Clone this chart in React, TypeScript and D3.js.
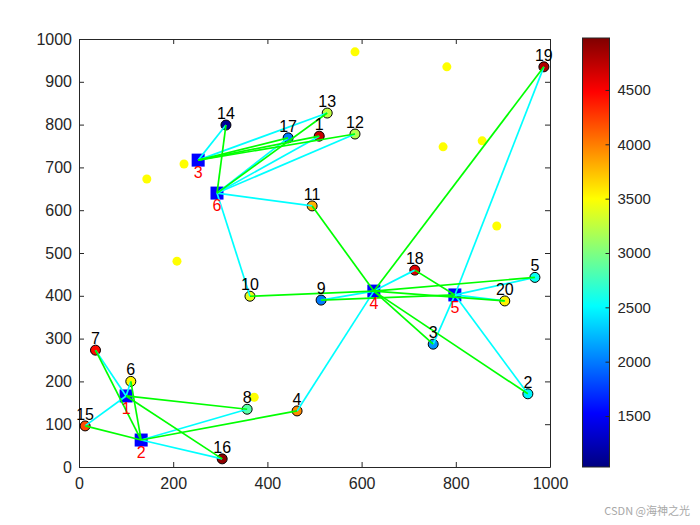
import React, { useEffect, useRef } from 'react';
import * as d3 from 'd3';

// customers, numbered 1..20 in array order
const customerX = [510, 953, 752, 463, 968, 110, 35, 357, 514, 363, 495, 586, 527, 312, 13, 304, 444, 713, 987, 904];
const customerY = [773, 171, 287, 131, 443, 200, 273, 135, 390, 399, 610, 778, 827, 799, 96, 19, 769, 460, 935, 388];
const customerDemand = [4700, 2480, 2100, 3950, 2550, 3520, 4450, 2850, 2000, 3400, 3800, 3200, 3250, 1100, 4200, 4920, 2000, 4600, 4800, 3550];

// chosen sites, numbered 1..6
const depotX = [100, 132, 253, 626, 798, 293];
const depotY = [166, 63, 717, 411, 402, 640];

// candidate sites that were not chosen
const unusedX = [586, 781, 856, 773, 887, 144, 223, 208, 372];
const unusedY = [970, 935, 762, 748, 563, 673, 708, 481, 163];

// [depot, customer] pairs
const cyanLinks = [
  [1, 6], [1, 7], [1, 15], [2, 8], [2, 16],
  [3, 14], [3, 13],
  [6, 11], [6, 10], [6, 12], [6, 1], [6, 17],
  [4, 4], [4, 18], [4, 9],
  [5, 2], [5, 3], [5, 5], [5, 20], [5, 19],
];
const greenLinks = [
  [2, 7], [2, 6], [2, 15], [2, 4], [1, 8], [1, 16],
  [3, 1], [3, 12], [3, 17], [6, 14], [6, 13],
  [4, 11], [4, 10], [4, 19], [4, 5], [4, 2], [4, 3], [4, 20],
  [5, 18], [5, 9],
];

const xTicks = [0, 200, 400, 600, 800, 1000];
const yTicks = [0, 100, 200, 300, 400, 500, 600, 700, 800, 900, 1000];
const colorTicks = [1500, 2000, 2500, 3000, 3500, 4000, 4500];
const colorMin = 1031;
const colorMax = 4978;
const jetStops = ['#000080', '#0000ff', '#00ffff', '#ffff00', '#ff0000', '#800000'];
const jetPositions = [0, 0.125, 0.375, 0.625, 0.875, 1];

const FONT = '"Liberation Sans", Arial, sans-serif';

export default function App() {
  const svgRef = useRef<SVGSVGElement>(null);

  useEffect(() => {
    if (!svgRef.current) return;
    const svg = d3.select(svgRef.current);
    svg.selectAll('*').remove();

    const x = d3.scaleLinear().domain([0, 1000]).range([79, 550]);
    const y = d3.scaleLinear().domain([0, 1000]).range([467, 39]);
    const cy = d3.scaleLinear().domain([colorMin, colorMax]).range([467, 38]);
    const jet = d3.scaleLinear<string>()
      .domain(jetPositions.map(p => colorMin + p * (colorMax - colorMin)))
      .range(jetStops);
    const fmt = d3.format('d');

    // frame and ticks on all four sides, ticks point inwards
    const drawAxis = (axis: d3.Axis<d3.NumberValue>, tx: number, ty: number, labels: boolean) => {
      const g = svg.append('g').attr('transform', `translate(${tx},${ty})`).call(axis);
      g.selectAll('path, line').attr('stroke', '#262626').attr('stroke-width', 1);
      g.selectAll('text')
        .attr('fill', '#262626')
        .style('font-family', FONT)
        .style('font-size', '16px');
      if (!labels) g.selectAll('text').remove();
    };
    drawAxis(d3.axisBottom(x).tickValues(xTicks).tickFormat(fmt).tickSizeOuter(0).tickSizeInner(-5).tickPadding(11), 0, 467, true);
    drawAxis(d3.axisLeft(y).tickValues(yTicks).tickFormat(fmt).tickSizeOuter(0).tickSizeInner(-5).tickPadding(7), 79, 0, true);
    drawAxis(d3.axisTop(x).tickValues(xTicks).tickSizeOuter(0).tickSizeInner(-5), 0, 39, false);
    drawAxis(d3.axisRight(y).tickValues(yTicks).tickSizeOuter(0).tickSizeInner(-5), 550, 0, false);

    // unused candidate sites
    svg.append('g').selectAll('circle')
      .data(unusedX)
      .enter().append('circle')
      .attr('cx', d => x(d))
      .attr('cy', (_, i) => y(unusedY[i]))
      .attr('r', 4.5)
      .attr('fill', '#ffff00');

    // customers
    svg.append('g').selectAll('circle')
      .data(customerX)
      .enter().append('circle')
      .attr('cx', d => x(d))
      .attr('cy', (_, i) => y(customerY[i]))
      .attr('r', 5)
      .attr('fill', (_, i) => jet(customerDemand[i]))
      .attr('stroke', '#000')
      .attr('stroke-width', 1);

    // depots
    const side = 13;
    svg.append('g').selectAll('rect')
      .data(depotX)
      .enter().append('rect')
      .attr('x', d => x(d) - side / 2)
      .attr('y', (_, i) => y(depotY[i]) - side / 2)
      .attr('width', side)
      .attr('height', side)
      .attr('fill', '#0000ff');

    const drawLinks = (links: number[][], color: string) => {
      svg.append('g').selectAll('line')
        .data(links)
        .enter().append('line')
        .attr('x1', d => x(depotX[d[0] - 1]))
        .attr('y1', d => y(depotY[d[0] - 1]))
        .attr('x2', d => x(customerX[d[1] - 1]))
        .attr('y2', d => y(customerY[d[1] - 1]))
        .attr('stroke', color)
        .attr('stroke-width', 1.7);
    };
    drawLinks(cyanLinks, '#00ffff');
    drawLinks(greenLinks, '#00ff00');

    // customer numbers above, depot numbers below in red
    svg.append('g').selectAll('text')
      .data(customerX)
      .enter().append('text')
      .attr('x', d => x(d))
      .attr('y', (_, i) => y(customerY[i]) - 6)
      .attr('text-anchor', 'middle')
      .style('font-family', FONT)
      .style('font-size', '16px')
      .attr('fill', '#000')
      .text((_, i) => i + 1);

    svg.append('g').selectAll('text')
      .data(depotX)
      .enter().append('text')
      .attr('x', d => x(d))
      .attr('y', (_, i) => y(depotY[i]) + 18)
      .attr('text-anchor', 'middle')
      .style('font-family', FONT)
      .style('font-size', '16px')
      .attr('fill', '#ff0000')
      .text((_, i) => i + 1);

    // colorbar
    const defs = svg.append('defs');
    const grad = defs.append('linearGradient')
      .attr('id', 'jet')
      .attr('x1', 0).attr('y1', 1).attr('x2', 0).attr('y2', 0);
    jetPositions.forEach((p, i) => {
      grad.append('stop').attr('offset', p).attr('stop-color', jetStops[i]);
    });
    svg.append('rect')
      .attr('x', 582.5)
      .attr('y', cy(colorMax))
      .attr('width', 27)
      .attr('height', cy(colorMin) - cy(colorMax))
      .attr('fill', 'url(#jet)')
      .attr('stroke', '#262626')
      .attr('stroke-width', 1);

    const barAxis = svg.append('g')
      .attr('transform', 'translate(609.5,0)')
      .call(d3.axisRight(cy).tickValues(colorTicks).tickFormat(fmt).tickSizeOuter(0).tickSizeInner(-4).tickPadding(8));
    barAxis.select('.domain').remove();
    barAxis.selectAll('line').attr('stroke', '#262626');
    barAxis.selectAll('text')
      .attr('fill', '#262626')
      .style('font-family', FONT)
      .style('font-size', '15px');

    // image watermark
    svg.append('text')
      .attr('x', 690)
      .attr('y', 515)
      .attr('text-anchor', 'end')
      .attr('fill', '#a8a8a8')
      .style('font-family', '"Noto Sans CJK SC", sans-serif')
      .style('font-size', '11px')
      .text('CSDN @海神之光');
  }, []);

  return (
    <svg
      ref={svgRef}
      width={700}
      height={525}
      style={{ position: 'absolute', left: 0, top: 0, background: '#fff' }}
    />
  );
}
